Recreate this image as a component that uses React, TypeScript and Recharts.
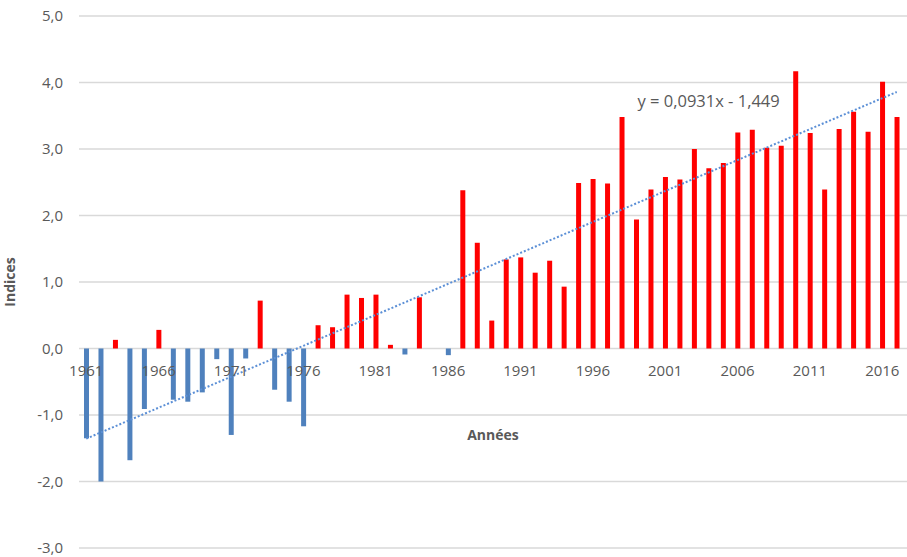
import React from 'react';
import { ComposedChart, Bar, Line, XAxis, YAxis, CartesianGrid, Cell, ReferenceLine, ReferenceDot } from 'recharts';

const YEARS: string[] = [
  '1961','1962','1963','1964','1965','1966','1967','1968','1969','1970',
  '1971','1972','1973','1974','1975','1976','1977','1978','1979','1980',
  '1981','1982','1983','1984','1985','1986','1987','1988','1989','1990',
  '1991','1992','1993','1994','1995','1996','1997','1998','1999','2000',
  '2001','2002','2003','2004','2005','2006','2007','2008','2009','2010',
  '2011','2012','2013','2014','2015','2016','2017',
];

const INDICES: number[] = [
  -1.35, -2.0, 0.13, -1.68, -0.91, 0.28, -0.77, -0.8, -0.66, -0.16,
  -1.3, -0.15, 0.72, -0.62, -0.8, -1.17, 0.35, 0.32, 0.81, 0.76,
  0.81, 0.055, -0.09, 0.77, 0, -0.1, 2.38, 1.59, 0.42, 1.34,
  1.37, 1.14, 1.32, 0.93, 2.49, 2.55, 2.48, 3.48, 1.94, 2.39,
  2.58, 2.54, 3.0, 2.71, 2.79, 3.25, 3.29, 3.02, 3.05, 4.17,
  3.24, 2.39, 3.3, 3.56, 3.26, 4.01, 3.48,
];

const Y_TICKS: number[] = [-3, -2, -1, 0, 1, 2, 3, 4, 5];
const TREND_SLOPE = 0.0931;
const TREND_INTERCEPT = -1.449;
const TREND_LABEL = 'y = 0,0931x - 1,449';
const X_TITLE = 'Années';
const Y_TITLE = 'Indices';

const data = YEARS.map((year, i) => ({
  year,
  value: INDICES[i],
  trend: TREND_SLOPE * (i + 1) + TREND_INTERCEPT,
}));

const W = 907;
const H = 557;
const TOP = 16;
const BOTTOM = 9;
const PLOT_H = H - TOP - BOTTOM;
const Y_MIN = -3;
const Y_MAX = 5;
const ZERO_OFFSET = PLOT_H * (0 - Y_MIN) / (Y_MAX - Y_MIN);

const FONT = '"Open Sans", "DejaVu Sans", sans-serif';
const TEXT_COLOR = '#595959';

const renderXTick = (props: any) => {
  const { x, y, payload } = props;
  return (
    <text x={x} y={y - ZERO_OFFSET + 17} dy="0.71em" textAnchor="middle" fill={TEXT_COLOR} fontSize={15} fontFamily={FONT}>
      {payload.value}
    </text>
  );
};

const fmt = (v: number) => v.toFixed(1).replace('.', ',');

export default function App() {
  return (
    <div style={{ position: 'fixed', left: 0, top: 0, width: W, height: H, background: '#fff', overflow: 'hidden' }}>
      <ComposedChart width={W} height={H} data={data} margin={{ top: TOP, right: 0, bottom: BOTTOM - 1, left: 0 }}>
        <CartesianGrid vertical={false} stroke="#d9d9d9" strokeWidth={1.3} />
        <XAxis
          dataKey="year"
          interval={4}
          tick={renderXTick}
          tickLine={false}
          axisLine={false}
          height={1}
          tickSize={0}
          tickMargin={0}
          padding={{ left: 0, right: 3 }}
        />
        <YAxis
          domain={[Y_MIN, Y_MAX]}
          ticks={Y_TICKS}
          tickFormatter={fmt}
          width={79}
          tickLine={false}
          axisLine={false}
          tickSize={0}
          tickMargin={16}
          tick={{ fill: TEXT_COLOR, fontSize: 15, fontFamily: FONT }}
          label={{ value: Y_TITLE, angle: -90, position: 'insideLeft', offset: 10, style: { textAnchor: 'middle', fill: TEXT_COLOR, fontSize: 14, fontWeight: 700, fontFamily: FONT } }}
          allowDataOverflow
        />
        <ReferenceLine
          y={-1.3}
          strokeOpacity={0}
          label={{ value: X_TITLE, position: 'center', fill: TEXT_COLOR, fontSize: 14, fontWeight: 700, fontFamily: FONT }}
        />
        <Bar dataKey="value" barSize={5} isAnimationActive={false}>
          {data.map((d, i) => (
            <Cell key={i} fill={d.value < 0 ? '#4f81bd' : '#ff0000'} />
          ))}
        </Bar>
        <Line
          dataKey="trend"
          type="linear"
          stroke="#5b8fd6"
          strokeWidth={2}
          strokeDasharray="2 2"
          dot={false}
          activeDot={false}
          isAnimationActive={false}
        />
        <ReferenceDot
          x="2004"
          y={3.72}
          r={0}
          fill="none"
          stroke="none"
          label={{ value: TREND_LABEL, position: 'center', dx: 0, fill: TEXT_COLOR, fontSize: 16.5, fontFamily: FONT }}
        />
      </ComposedChart>
    </div>
  );
}
